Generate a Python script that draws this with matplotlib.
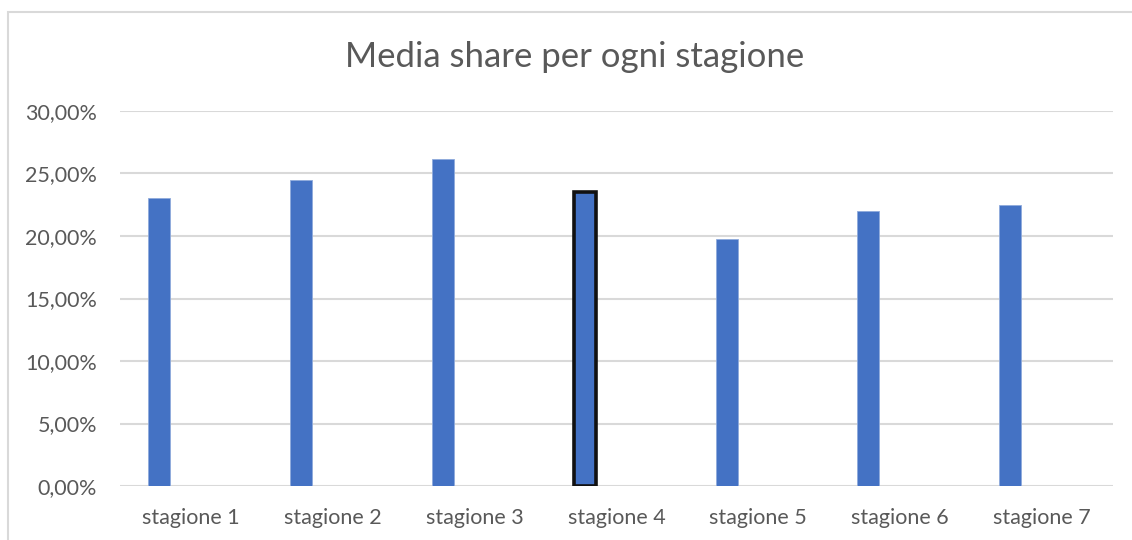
import matplotlib
matplotlib.use("Agg")
from matplotlib import pyplot
from matplotlib.patches import Rectangle
from matplotlib.ticker import FuncFormatter, MultipleLocator

# Data

stagioni = ["stagione 1", "stagione 2", "stagione 3", "stagione 4", "stagione 5", "stagione 6", "stagione 7"]
share = [0.2305, 0.2450, 0.2618, 0.2350, 0.1980, 0.2204, 0.2250]
evidenziata = 3  # bar drawn with black outline

# Style

barColor = "#4472C4"
gridColor = "#D9D9D9"
textColor = "#595959"
pyplot.rcParams["font.family"] = ["Lato", "DejaVu Sans"]

fig = pyplot.figure(figsize = (11.32, 5.40), dpi = 100)
ax = fig.add_axes([120 / 1132, 54 / 540, 993 / 1132, 375 / 540])

# Outer chart frame (runs past the right and bottom edges)
fig.patches.append(Rectangle((8 / 1132, -0.1), 1.2, (528 / 540) + 0.1, transform = fig.transFigure,
                             fill = False, edgecolor = gridColor, linewidth = 1.5))

positions = list(range(len(stagioni)))
offset = -0.224
width = 0.155

for i in positions:
    if i == evidenziata:
        ax.bar(i + offset, share[i], width, color = barColor, edgecolor = "#111111", linewidth = 2.6, zorder = 3)
    else:
        ax.bar(i + offset, share[i], width, color = barColor, edgecolor = "#8FAADC", linewidth = 0.6, zorder = 3)

ax.set_xlim(-0.5, len(stagioni) - 0.5)
ax.set_ylim(0, 0.30)
ax.yaxis.set_major_locator(MultipleLocator(0.05))
ax.yaxis.set_major_formatter(FuncFormatter(lambda v, p: "{0:.2f}%".format(v * 100).replace(".", ",")))
ax.set_xticks(positions)
ax.set_xticklabels(stagioni)

ax.grid(True, axis = "y", color = gridColor, linewidth = 1.5, zorder = 0)
for side in ["left", "right", "top", "bottom"]:
    ax.spines[side].set_visible(False)
ax.tick_params(axis = "both", length = 0, labelsize = 15.5, labelcolor = textColor)
ax.tick_params(axis = "x", pad = 15.5)
ax.tick_params(axis = "y", pad = 16.5)

fig.text(575 / 1132, 1 - 57 / 540, "Media share per ogni stagione", ha = "center", va = "center",
         fontsize = 25, color = textColor)

fig.savefig("out.png", dpi = 100)
pyplot.close()
